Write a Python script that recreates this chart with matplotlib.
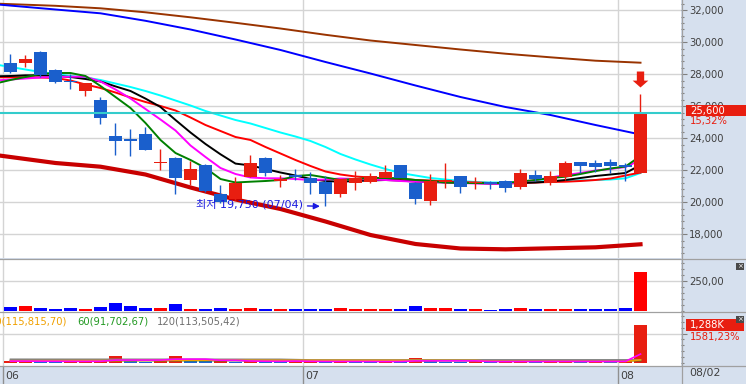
import numpy as np
import matplotlib.pyplot as plt
from matplotlib.lines import Line2D
from matplotlib.patches import Rectangle
from matplotlib.transforms import IdentityTransform, offset_copy
from matplotlib.ticker import MultipleLocator, FuncFormatter

plt.rcParams['font.family'] = ['DejaVu Sans', 'Noto Sans CJK KR']

# daily candles, first June session .. 08/02
opens = [28700, 28700, 29400, 28250, 27550, 26950, 26400, 24150, 23900, 24250,
         22450, 22750, 21400, 22350, 20500, 20200, 21600, 22800, 21350, 21650,
         21500, 21300, 20500, 21200, 21300, 21550, 22350, 21200, 20100, 21300,
         21650, 21200, 21250, 21350, 20950, 21700, 21200, 21600, 22500, 22450,
         22500, 22350, 21850]
highs = [29250, 29200, 29450, 28350, 28000, 27450, 26550, 24950, 24600, 24700,
         23300, 22800, 22550, 22400, 21100, 21600, 22950, 22850, 21700, 22100,
         21900, 21650, 21450, 21950, 21850, 22350, 22350, 21250, 21750, 22450,
         21650, 21600, 21300, 21400, 22100, 22000, 21950, 22550, 22500, 22650,
         22700, 22450, 26750]
lows = [28100, 28450, 27850, 27450, 27050, 26650, 24900, 22950, 22900, 23250,
        22000, 20500, 21100, 20650, 19950, 20150, 21550, 21650, 20950, 21400,
        20500, 19750, 20300, 20750, 21200, 21550, 21550, 19900, 19800, 20900,
        20550, 20800, 20850, 20650, 20850, 21300, 21100, 21400, 21850, 21900,
        21800, 21350, 21850]
closes = [28150, 28950, 27950, 27550, 27500, 27450, 25300, 23850, 23850, 23250,
          22500, 21550, 22100, 20700, 20000, 21200, 22450, 21850, 21450, 21600,
          21200, 20500, 21450, 21550, 21650, 21900, 21550, 20200, 21350, 21350,
          20950, 21250, 21150, 20900, 21850, 21450, 21650, 22450, 22300, 22200,
          22250, 22200, 25600]

month_starts = [0, 20, 41]
month_labels = ['06', '07', '08']
last_date = '08/02'
low_date = '07/04'
change_pct = '15,32%'

# moving averages (index -1 = the session before the first one shown)
ma_idx = list(range(-1, 43))
ma_green = [27425, 27644, 27831, 28019, 28081, 28081, 27894, 27269, 26581, 25894, 24956,
            23894, 23081, 22644, 22144, 21456, 21237, 21287, 21331, 21394, 21644, 21706,
            21550, 21394, 21456, 21519, 21519, 21500, 21394, 21331, 21237, 21206, 21206,
            21187, 21206, 21300, 21394, 21519, 21600, 21769, 21956, 22113, 22237, 22894]
ma_magenta = [27612, 27675, 27737, 27800, 27831, 27850, 27850, 27550, 27050, 26487, 25831,
              25175, 24487, 23550, 22831, 22144, 21769, 21550, 21500, 21500, 21456, 21394,
              21425, 21487, 21456, 21425, 21394, 21331, 21287, 21269, 21237, 21206, 21175,
              21144, 21144, 21269, 21394, 21550, 21706, 21831, 21987, 22081, 22206, 22644]
ma_black = [27875, 27894, 27937, 27937, 27894, 27831, 27706, 27550, 27244, 26956, 26481,
            25956, 25144, 24362, 23644, 23000, 22419, 22300, 22081, 21862, 21675, 21456,
            21331, 21287, 21331, 21362, 21394, 21362, 21287, 21269, 21237, 21206, 21206,
            21187, 21187, 21206, 21237, 21300, 21394, 21519, 21644, 21737, 21831, 22331]
ma_red = [27813, 27813, 27813, 27800, 27769, 27612, 27362, 27144, 26862, 26550, 26269,
          26019, 25737, 25300, 24831, 24456, 24081, 23894, 23456, 23050, 22644, 22269,
          21925, 21737, 21612, 21550, 21500, 21456, 21394, 21362, 21300, 21269, 21237,
          21206, 21187, 21206, 21237, 21269, 21287, 21331, 21394, 21487, 21675, 21862]
ma_cyan = [28612, 28456, 28300, 28144, 28019, 27894, 27800, 27644, 27425, 27206, 26956,
           26675, 26362, 26050, 25706, 25425, 25144, 24925, 24644, 24362, 24112, 23831,
           23456, 23019, 22675, 22362, 22081, 21831, 21675, 21519, 21425, 21331, 21269,
           21237, 21237, 21269, 21300, 21331, 21350, 21375, 21394, 21425, 21500, 21831]
slow_idx = [-1, 3, 6, 9, 12, 15, 18, 21, 24, 27, 30, 33, 36, 39, 42]
ma_blue = [32375, 32050, 31812, 31344, 30800, 30175, 29519, 28769, 28050, 27300,
           26581, 25956, 25456, 24831, 24237]
ma_brown = [32419, 32281, 32125, 31875, 31562, 31219, 30862, 30469, 30112, 29831,
            29550, 29287, 29062, 28850, 28725]
ma_thick = [22956, 22456, 22225, 21737, 20925, 20175, 19581, 18800, 17956, 17394,
            17112, 17062, 17125, 17187, 17375]

# second panel (scale labelled 250,00)
panel2 = [29, 40, 25, 14, 25, 14, 29, 65, 40, 25, 25, 56, 14, 14, 25, 14, 25, 14, 14, 14,
          14, 14, 25, 14, 14, 14, 14, 42, 25, 25, 14, 14, 6, 14, 25, 14, 14, 14, 14, 14,
          14, 25, 328]

# volume in thousands
volume = [75, 80, 62, 55, 60, 66, 95, 245, 70, 60, 68, 240, 70, 62, 66, 58, 100, 65, 58, 62,
          66, 60, 64, 58, 55, 60, 56, 170, 66, 60, 56, 62, 55, 60, 66, 58, 62, 68, 60, 64,
          58, 76.6, 1288]
vol_ma5 = [72, 73, 70, 68, 66, 65, 68, 106, 107, 107, 108, 137, 140, 140, 101, 99, 76, 69,
           66, 74, 67, 62, 62, 62, 61, 59, 59, 80, 81, 82, 82, 81, 60, 59, 60, 60, 62, 63,
           63, 62, 62, 65, 309]
vma20_idx = [0, 8, 12, 20, 28, 31, 32, 41, 42]
vol_ma20 = [85, 93, 103, 100, 98, 96, 70, 64, 115.8]
vma60_idx = [0, 41, 42]
vol_ma60 = [93, 88, 91.7]
vma120_idx = [0, 18, 20, 42]
vol_ma120 = [134, 132, 112, 113.5]
vol_pct = '1581,23%'

W, H = 746, 384
RED, BLUE = '#E81E10', '#1A5FCC'
GRID = '#D4D4D4'
AXBG = '#D6E0EE'
LBL = '#404040'
FS = 7.2

fig = plt.figure(figsize=(W / 100, H / 100), dpi=100, facecolor=AXBG)
pw = 681 / W
ax1 = fig.add_axes([0, 1 - 258 / H, pw, 258 / H])
ax2 = fig.add_axes([0, 1 - 312 / H, pw, 53 / H])
ax3 = fig.add_axes([0, 1 - 366 / H, pw, 54 / H])
ax4 = fig.add_axes([0, 0, pw, 18 / H], facecolor=AXBG)

idx = np.arange(len(closes))
o = np.array(opens); c = np.array(closes)
up = c >= o
ccol = [RED if u else BLUE for u in up]

for ax in (ax1, ax2, ax3, ax4):
    ax.set_xlim(-0.7, 44.7)
    for s in ax.spines.values():
        s.set_visible(False)
    ax.tick_params(axis='x', bottom=False, labelbottom=False)
for ax in (ax1, ax2, ax3):
    for m in month_starts:
        ax.axvline(m - 0.5, color=GRID, lw=1, zorder=0)
    ax.yaxis.tick_right()
    ax.tick_params(axis='y', which='major', direction='out', length=4.5, width=0.8,
                   color='#808080', labelcolor=LBL, labelsize=FS, pad=1.5)
    ax.tick_params(axis='y', which='minor', direction='out', length=2, width=0.8,
                   color='#808080')

# main price panel
ax1.set_ylim(16518.75, 32643.75)
ax1.set_yticks(np.arange(18000, 32001, 2000))
ax1.yaxis.set_minor_locator(MultipleLocator(400))
ax1.yaxis.set_major_formatter(FuncFormatter(lambda v, p: f'{v:,.0f}'))
ax1.grid(axis='y', color=GRID, lw=1, zorder=0)

ax1.plot(slow_idx, ma_brown, color='#993300', lw=1.4, zorder=3)
ax1.plot(slow_idx, ma_blue, color='#0000FF', lw=1.4, zorder=3)
ax1.plot(slow_idx, ma_thick, color='#C80000', lw=3.0, zorder=3)
ax1.plot(ma_idx, ma_cyan, color='#00FFFF', lw=1.4, zorder=3)
ax1.plot(ma_idx, ma_red, color='#FF0000', lw=1.4, zorder=3)
ax1.plot(ma_idx, ma_black, color='#000000', lw=1.4, zorder=3)
ax1.plot(ma_idx, ma_magenta, color='#FF00FF', lw=1.4, zorder=3)
ax1.plot(ma_idx, ma_green, color='#008000', lw=1.4, zorder=3)

ax1.vlines(idx, lows, highs, colors=ccol, lw=1, zorder=4)
ax1.bar(idx, np.maximum(np.abs(c - o), 100), bottom=np.minimum(o, c), width=0.87,
        color=ccol, linewidth=0, zorder=5)
ax1.axhline(closes[-1], color='#33CCCC', lw=1.5, zorder=6)

low_i = int(np.argmin(lows))
ax1.annotate(f'최저 {lows[low_i]:,} ({low_date})', xy=(low_i - 0.37, lows[low_i]),
             xytext=(-12, 1.5), textcoords='offset points', ha='right', va='center',
             color='#1A1AE0', fontsize=8, zorder=7,
             arrowprops=dict(arrowstyle='-|>', color='#1A1AE0', lw=1.0,
                             mutation_scale=9, shrinkA=1, shrinkB=0))

arrow_verts = [(-0.46, 1), (0.46, 1), (0.46, -0.14), (0.98, -0.14), (0, -1),
               (-0.98, -0.14), (-0.46, -0.14), (-0.46, 1)]
ax1.plot(idx[-1], highs[-1], marker=arrow_verts, ms=11.5, color=RED, mew=0, zorder=7,
         transform=offset_copy(ax1.transData, fig=fig, x=0, y=15.6, units='dots'))

# second panel
ax2.set_ylim(-11, 435)
ax2.axhline(250, color=GRID, lw=1, zorder=0)
ax2.set_yticks([250])
ax2.yaxis.set_minor_locator(MultipleLocator(50))
ax2.yaxis.set_major_formatter(FuncFormatter(lambda v, p: f'{v:.2f}'.replace('.', ',')))
ax2.bar(idx, panel2, width=0.85, color=['#FF0000' if u else '#0000FF' for u in up],
        linewidth=0, zorder=2)

# volume panel
ax3.set_ylim(-91, 1724)
ax3.axhline(1000, color=GRID, lw=1, zorder=0)
ax3.set_yticks([1000])
ax3.set_yticklabels([''])
ax3.yaxis.set_minor_locator(MultipleLocator(200))
vcol = [RED if (i == 0 or volume[i] > volume[i - 1]) else '#1E64D2' for i in idx]
ax3.bar(idx, volume, width=0.85, color=vcol, linewidth=0, zorder=2)
ax3.plot(vma60_idx, vol_ma60, color='#2E8B2E', lw=1.2, zorder=3)
ax3.plot(vma120_idx, vol_ma120, color='#808080', lw=1.2, zorder=3)
ax3.plot(vma20_idx, vol_ma20, color='#F0A000', lw=1.2, zorder=3)
ax3.plot(idx, vol_ma5, color='#FF00FF', lw=1.2, zorder=3)
ax3.text(67 / 681, 0.82, '20(115,815,70)', transform=ax3.transAxes, ha='right',
         va='center', color='#F0A000', fontsize=FS)
ax3.text(77 / 681, 0.82, '60(91,702,67)', transform=ax3.transAxes, ha='left',
         va='center', color='#229922', fontsize=FS)
ax3.text(157 / 681, 0.82, '120(113,505,42)', transform=ax3.transAxes, ha='left',
         va='center', color='#707070', fontsize=FS)

# date axis
ax4.set_ylim(0, 1)
ax4.set_yticks([])
for m, lab in zip(month_starts, month_labels):
    ax4.axvline(m - 0.5, color='#909090', lw=1)
    ax4.text(m - 0.38, 0.42, lab, color=LBL, fontsize=7.8, va='center', ha='left')
fig.text(689 / W, 1 - 373 / H, last_date, color=LBL, fontsize=7.8, va='center')

# separators
for y in (258.5, 311.8, 365.5):
    fig.add_artist(Line2D([0, 1], [1 - y / H, 1 - y / H], color='#A0A0A0', lw=0.9))
fig.add_artist(Line2D([681.5 / W, 681.5 / W], [0, 1], color='#A0A0A0', lw=0.9))

# current value boxes on the right scale
ident = IdentityTransform()
yp = ax1.transData.transform((0, closes[-1]))[1] + 2
fig.add_artist(Rectangle((686, yp - 5.5), 60, 11, transform=ident, fc=RED, ec='none', zorder=10))
fig.text(690, yp, f'{closes[-1]:,}', transform=ident, color='white', fontsize=FS,
         va='center', ha='left', zorder=11)
fig.text(690, yp - 10, change_pct, transform=ident, color=RED, fontsize=FS,
         va='center', ha='left', zorder=11)

yv = ax3.transData.transform((0, volume[-1]))[1]
fig.add_artist(Rectangle((686, yv - 6), 58, 12, transform=ident, fc=RED, ec='none', zorder=10))
fig.text(690, yv, f'{volume[-1]:,}K', transform=ident, color='white', fontsize=FS,
         va='center', ha='left', zorder=11)
fig.text(690, yv - 12, vol_pct, transform=ident, color=RED, fontsize=FS,
         va='center', ha='left', zorder=11)

# small close buttons of the sub panels
for ytop in (263, 316):
    fig.add_artist(Rectangle((736, H - ytop - 7), 8, 7, transform=ident, fc='#4A4A4A',
                             ec='none', zorder=12))
    fig.text(740, H - ytop - 3.5, '×', transform=ident, color='white', fontsize=5,
             ha='center', va='center', zorder=13)

fig.savefig('out.png', dpi=100, facecolor=AXBG)
